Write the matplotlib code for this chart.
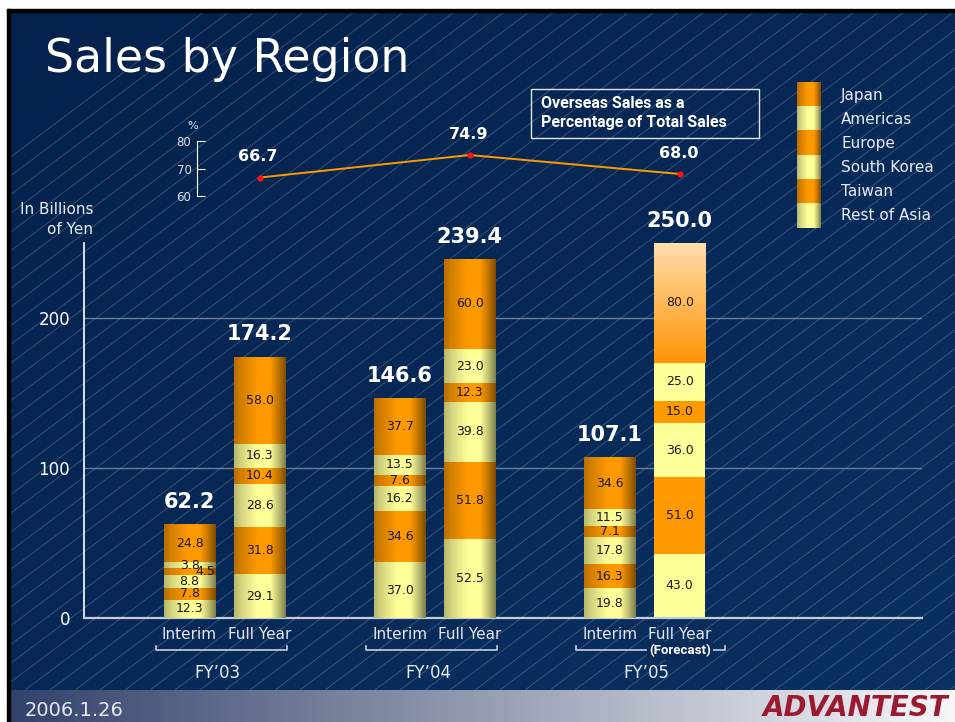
import numpy as np
import matplotlib
matplotlib.use("Agg")
import matplotlib.pyplot as plt
from matplotlib.collections import LineCollection
from matplotlib.patches import Rectangle

plt.rcParams['font.family'] = ['DejaVu Sans']

# ---- data ----
periods = ['Interim', 'Full Year', 'Interim', 'Full Year', 'Interim', 'Full Year']
fiscal_years = ['FY\u201903', 'FY\u201904', 'FY\u201905']
# stacked bottom -> top
regions = ['Rest of Asia', 'Taiwan', 'South Korea', 'Europe', 'Americas', 'Japan']
rest_of_asia = [12.3, 29.1, 37.0, 52.5, 19.8, 43.0]
taiwan = [7.8, 31.8, 34.6, 51.8, 16.3, 51.0]
south_korea = [8.8, 28.6, 16.2, 39.8, 17.8, 36.0]
europe = [4.5, 10.4, 7.6, 12.3, 7.1, 15.0]
americas = [3.8, 16.3, 13.5, 23.0, 11.5, 25.0]
japan = [24.8, 58.0, 37.7, 60.0, 34.6, 80.0]
totals = [62.2, 174.2, 146.6, 239.4, 107.1, 250.0]
overseas_pct = [66.7, 74.9, 68.0]
forecast = [False, False, False, False, False, True]

series = [rest_of_asia, taiwan, south_korea, europe, americas, japan]
ORANGE = (1.0, 0.60, 0.0)
YELLOW = (1.0, 1.0, 0.60)
region_colors = [YELLOW, ORANGE, YELLOW, ORANGE, YELLOW, ORANGE]

W, H = 955, 722
fig = plt.figure(figsize=(W / 100, H / 100), dpi=100)


def cylinder(rgb, n=64):
    t = np.linspace(0, 1, n)
    f = np.interp(t, [0, .12, .45, .7, .88, 1], [.72, .82, 1, 1, .72, .5])
    img = np.clip(np.array(rgb)[None, :] * f[:, None], 0, 1)
    return img[None, :, :]


# ---- background (pixel coords) ----
bg = fig.add_axes([0, 0, 1, 1])
bg.set_xlim(0, W)
bg.set_ylim(H, 0)
bg.axis('off')
bg.add_patch(Rectangle((0, 0), W, H, color='white', zorder=0))

yy, xx = np.mgrid[0:1:60j, 0:1:60j]
mix = ((xx + yy) / 2)[..., None]
blue = np.array([0.02, 0.13, 0.30])[None, None, :] * (1 - mix) \
    + np.array([0.04, 0.19, 0.38])[None, None, :] * mix
bg.imshow(blue, extent=[10, W, 690, 12], aspect='auto', zorder=1)

segs = []
for c in np.arange(-700, 1700, 25):
    segs.append([(c, 690), (c + 678 / 0.75, 12)])
lc = LineCollection(segs, colors=(1, 1, 1, 0.22), linewidths=0.6, zorder=2)
bg.add_collection(lc)
lc.set_clip_path(Rectangle((10, 12), W - 10, 678, transform=bg.transData))

foot = np.linspace(0, 1, 200)
c0, c1 = np.array([0.20, 0.26, 0.42]), np.array([0.97, 0.97, 0.98])
ftimg = (c0[None, :] * (1 - foot[:, None]) + c1[None, :] * foot[:, None])[None, :, :]
bg.imshow(ftimg, extent=[10, W, 722, 690], aspect='auto', zorder=1)

bg.add_patch(Rectangle((7, 9), 3, H, color='black', zorder=3))
bg.add_patch(Rectangle((7, 9), W, 3, color='black', zorder=3))
bg.set_xlim(0, W)
bg.set_ylim(H, 0)

bg.text(45, 72, 'Sales by Region', color='white', fontsize=33, va='baseline', zorder=4)
bg.text(25, 710, '2006.1.26', color='#e6e8f0', fontsize=14, va='center', zorder=4)
bg.text(948, 708, 'ADVANTEST', color='#9c1a30', fontsize=20, fontweight='heavy',
        style='italic', ha='right', va='center', zorder=4)
bg.text(93, 210, 'In Billions', color='#e8ecf4', fontsize=11, ha='right', va='center', zorder=4)
bg.text(93, 229, 'of Yen', color='#e8ecf4', fontsize=11, ha='right', va='center', zorder=4)

# overseas box
bg.add_patch(Rectangle((531, 89), 228, 49, fill=False, edgecolor='#e0e6f0', lw=1, zorder=4))
bg.text(541, 103, 'Overseas Sales as a', color='white', fontsize=11.5, fontweight='bold',
        family='Roboto', va='center', zorder=4)
bg.text(541, 122, 'Percentage of Total Sales', color='white', fontsize=11.5, fontweight='bold',
        family='Roboto', va='center', zorder=4)

# legend strip
seg_h = 145 / len(regions)
for k, (name, col) in enumerate(zip(regions[::-1], region_colors[::-1])):
    y0 = 83 + k * seg_h
    bg.imshow(cylinder(col), extent=[797, 821, y0 + seg_h, y0], aspect='auto', zorder=4)
    bg.text(841, y0 + seg_h / 2, name, color='#e8ecf4', fontsize=11, va='center', zorder=4)
bg.set_xlim(0, W)
bg.set_ylim(H, 0)

# ---- main bar axes ----
ax = fig.add_axes([84 / W, (H - 618) / H, (922 - 84) / W, 375 / H])
ax.set_facecolor('none')
positions = [0, 1, 3, 4, 6, 7]
width = 0.73
XL = (-1.507, 10.46)

bottom = np.zeros(len(positions))
for j, (vals, col) in enumerate(zip(series, region_colors)):
    bars = ax.bar(positions, vals, width, bottom=bottom, color=col, linewidth=0, zorder=2)
    for i, p in enumerate(bars.patches):
        x0, y0, w, h = p.get_x(), p.get_y(), p.get_width(), p.get_height()
        if not forecast[i]:
            ax.imshow(cylinder(col), extent=[x0, x0 + w, y0, y0 + h], aspect='auto', zorder=3)
        elif regions[j] == 'Japan':
            t = np.linspace(0, 1, 100)[:, None]
            top_c, bot_c = np.array([1.0, 0.87, 0.67]), np.array([1.0, 0.58, 0.02])
            vimg = (top_c * (1 - t) + bot_c * t)[:, None, :]
            ax.imshow(vimg, extent=[x0, x0 + w, y0, y0 + h], aspect='auto', zorder=3)
        # the two thin FY'03 interim labels sit side by side in the original
        dx = 0.22 if (i == 0 and regions[j] == 'Europe') else 0
        ax.text(positions[i] + dx, y0 + h / 2, f'{vals[i]:.1f}', ha='center', va='center',
                fontsize=9, color='#1a1a1a', zorder=5)
    bottom += np.array(vals)

for pos, tot in zip(positions, totals):
    ax.annotate(f'{tot:.1f}', (pos, tot), xytext=(0, 16), textcoords='offset points',
                ha='center', va='center', fontsize=15, fontweight='bold', color='white',
                zorder=5, annotation_clip=False)

ax.set_xlim(*XL)
ax.set_ylim(0, 250)
ax.set_yticks([0, 100, 200])
ax.tick_params(axis='y', length=0, pad=10, labelsize=12, labelcolor='white')
ax.set_xticks([])
ax.grid(axis='y', color='#6a7f9c', lw=1, zorder=1)
ax.set_axisbelow(True)
for s in ['top', 'right']:
    ax.spines[s].set_visible(False)
ax.spines['left'].set_color('white')
ax.spines['left'].set_linewidth(1.2)
ax.spines['bottom'].set_color('#c4ccd8')
ax.spines['bottom'].set_linewidth(1.6)

for pos, lab in zip(positions, periods):
    ax.text(pos, -11, lab, ha='center', va='center', fontsize=11, color='#e4e8f0', clip_on=False)

for g, fy in enumerate(fiscal_years):
    left = positions[2 * g] - 0.48
    right = positions[2 * g + 1] + (0.64 if g == 2 else 0.39)
    ax.plot([left, left, right, right], [-18.5, -21.5, -21.5, -18.5], color='#c8d0dc',
            lw=1.2, clip_on=False, zorder=4)
    ax.text((left + right) / 2 - 0.05, -37, fy, ha='center', va='center', fontsize=12,
            color='#e8ecf4', clip_on=False)
ax.text(positions[5], -22, '(Forecast)', ha='center', va='center', fontsize=9.5,
        fontweight='bold', family='Roboto', color='white', clip_on=False, zorder=5,
        bbox=dict(boxstyle='square,pad=0.15', fc='#0b2a58', ec='none'))

# ---- overseas percentage line ----
ax2 = fig.add_axes([84 / W, (H - 196) / H, (922 - 84) / W, 55 / H])
ax2.set_facecolor('none')
pct_x = [positions[1], positions[3], positions[5]]
ax2.plot(pct_x, overseas_pct, color='#ff9a00', lw=1.4, zorder=2)
ax2.plot(pct_x, overseas_pct, 'o', color='#ff1010', ms=3.5, zorder=3)
for x, v in zip(pct_x, overseas_pct):
    ax2.annotate(f'{v:.1f}', (x, v), xytext=(-1, 15), textcoords='offset points',
                 ha='center', va='center', fontsize=11.5, fontweight='bold', color='white',
                 annotation_clip=False)
ax2.set_xlim(*XL)
ax2.set_ylim(60, 80)
ax2.set_yticks([60, 70, 80])
for s in ['top', 'right', 'bottom']:
    ax2.spines[s].set_visible(False)
ax2.spines['left'].set_position(('data', 0.107))
ax2.spines['left'].set_color('white')
ax2.spines['left'].set_bounds(60, 80)
ax2.tick_params(axis='y', direction='in', length=6, color='white', pad=4,
                labelsize=8.5, labelcolor='#dde2ec')
ax2.set_xticks([])
ax2.text(0.05, 83.5, '%', fontsize=8, color='#dde2ec', ha='center', va='bottom')

fig.savefig('out.png', dpi=100)
